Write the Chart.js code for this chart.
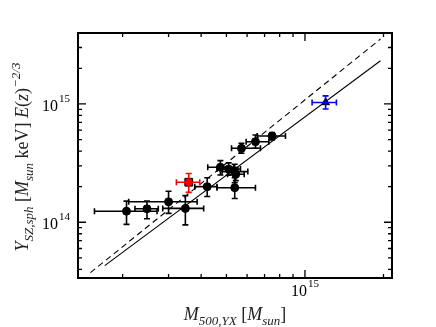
<!DOCTYPE html>
<html>
<head>
<meta charset="utf-8">
<script src="https://cdn.jsdelivr.net/npm/chart.js@4"></script>
<style>
  html, body { margin: 0; padding: 0; background: #fff; }
  #wrap { width: 436px; height: 327px; }
</style>
</head>
<body>
<div id="wrap"><canvas id="c" width="436" height="327"></canvas></div>
<script>
// cluster sample (black circles)
const massX   = [2.07e14, 2.48e14, 3.00e14, 3.48e14, 4.22e14, 5.38e14, 4.74e14, 5.10e14, 5.38e14, 5.43e14, 5.71e14, 6.46e14, 7.48e14];
const massLo  = [1.56e14, 2.23e14, 2.11e14, 2.85e14, 3.78e14, 4.60e14, 4.24e14, 4.60e14, 4.81e14, 5.05e14, 5.23e14, 5.95e14, 6.56e14];
const massHi  = [2.71e14, 2.74e14, 3.86e14, 4.09e14, 4.60e14, 6.46e14, 5.33e14, 5.66e14, 6.04e14, 5.85e14, 6.75e14, 7.27e14, 8.42e14];
const ySZ     = [1.24e14, 1.30e14, 1.49e14, 1.31e14, 2.00e14, 1.96e14, 2.92e14, 2.82e14, 2.68e14, 2.55e14, 4.22e14, 4.80e14, 5.36e14];
const ySZLo   = [0.96e14, 1.07e14, 1.19e14, 0.95e14, 1.65e14, 1.59e14, 2.51e14, 2.50e14, 2.16e14, 2.25e14, 3.83e14, 4.22e14, 4.96e14];
const ySZHi   = [1.51e14, 1.51e14, 1.83e14, 1.68e14, 2.38e14, 2.38e14, 3.32e14, 3.18e14, 3.09e14, 2.90e14, 4.65e14, 5.47e14, 5.72e14];

// red square
const redX = [3.585e14], redXLo = [3.215e14], redXHi = [3.95e14];
const redY = [2.18e14],  redYLo = [1.79e14],  redYHi = [2.58e14];

// blue triangle
const blueX = [1.20e15], blueXLo = [1.065e15], blueXHi = [1.32e15];
const blueY = [1.03e15], blueYLo = [0.907e15], blueYHi = [1.17e15];

// lines
const fitX = [1.708e14, 1.948e15], fitY = [4.30e13, 2.32e15];
const ssX  = [1.505e14, 1.948e15], ssY  = [3.75e13, 3.54e15];

// axis ranges and labelled ticks
const xRange = [1.349e14, 2.156e15];
const yRange = [3.38e13, 3.98e15];
const xTickExps = [15];
const yTickExps = [14, 15];

const pts = (xs, ys) => xs.map((x, i) => ({x: x, y: ys[i]}));

const SERIF = '"Liberation Serif", "DejaVu Serif", serif';

const errorBars = {
  id: 'errorBars',
  afterDatasetsDraw(chart) {
    const ctx = chart.ctx, xs = chart.scales.x, ys = chart.scales.y;
    const cap = 3;
    chart.data.datasets.forEach((ds) => {
      if (!ds.err) return;
      const e = ds.err;
      ctx.save();
      ctx.strokeStyle = ds.errColor;
      ctx.lineWidth = 1.6;
      ds.data.forEach((p, i) => {
        const px = xs.getPixelForValue(p.x), py = ys.getPixelForValue(p.y);
        const xl = xs.getPixelForValue(e.xLo[i]), xh = xs.getPixelForValue(e.xHi[i]);
        const yl = ys.getPixelForValue(e.yLo[i]), yh = ys.getPixelForValue(e.yHi[i]);
        ctx.beginPath();
        ctx.moveTo(xl, py); ctx.lineTo(xh, py);
        ctx.moveTo(xl, py - cap); ctx.lineTo(xl, py + cap);
        ctx.moveTo(xh, py - cap); ctx.lineTo(xh, py + cap);
        ctx.moveTo(px, yl); ctx.lineTo(px, yh);
        ctx.moveTo(px - cap, yl); ctx.lineTo(px + cap, yl);
        ctx.moveTo(px - cap, yh); ctx.lineTo(px + cap, yh);
        ctx.stroke();
      });
      ctx.restore();
    });
  }
};

function drawPow(ctx, base, exp, x, y, align) {
  ctx.font = '16px ' + SERIF;
  const wb = ctx.measureText(base).width;
  ctx.font = '11px ' + SERIF;
  const we = ctx.measureText(exp).width;
  const total = wb + we + 1;
  let x0 = x;
  if (align === 'center') x0 = x - total / 2;
  if (align === 'right') x0 = x - total;
  ctx.textAlign = 'left';
  ctx.textBaseline = 'alphabetic';
  ctx.font = '16px ' + SERIF;
  ctx.fillText(base, x0, y);
  ctx.font = '11px ' + SERIF;
  ctx.fillText(exp, x0 + wb + 1, y - 9);
}

// pieces: [text, style, shift]  style: 'n' normal, 'i' italic; shift: 0, 'sub', 'sup'
function drawRich(ctx, pieces, x, y, size) {
  let w = 0;
  const fontFor = (p) => {
    const s = p[2] ? Math.round(size * 0.7) : size;
    return (p[1] === 'i' ? 'italic ' : '') + s + 'px ' + SERIF;
  };
  pieces.forEach(p => { ctx.font = fontFor(p); w += ctx.measureText(p[0]).width; });
  let cx = x - w / 2;
  ctx.textAlign = 'left';
  ctx.textBaseline = 'alphabetic';
  pieces.forEach(p => {
    ctx.font = fontFor(p);
    let dy = 0;
    if (p[2] === 'sub') dy = size * 0.3;
    if (p[2] === 'sup') dy = -size * 0.45;
    ctx.fillText(p[0], cx, y + dy);
    cx += ctx.measureText(p[0]).width;
  });
}

const frame = {
  id: 'frame',
  afterDraw(chart) {
    const ctx = chart.ctx, a = chart.chartArea, xs = chart.scales.x, ys = chart.scales.y;
    ctx.save();
    ctx.strokeStyle = '#000';
    ctx.fillStyle = '#000';
    // ticks, inward on all sides
    ctx.lineWidth = 1.3;
    ctx.beginPath();
    for (let d = 13; d <= 15; d++) {
      for (let m = 1; m <= 9; m++) {
        const v = m * Math.pow(10, d);
        const len = m === 1 ? 8 : 4;
        if (v > xRange[0] && v < xRange[1]) {
          const px = xs.getPixelForValue(v);
          ctx.moveTo(px, a.bottom); ctx.lineTo(px, a.bottom - len);
          ctx.moveTo(px, a.top); ctx.lineTo(px, a.top + len);
        }
        if (v > yRange[0] && v < yRange[1]) {
          const py = ys.getPixelForValue(v);
          ctx.moveTo(a.left, py); ctx.lineTo(a.left + len, py);
          ctx.moveTo(a.right, py); ctx.lineTo(a.right - len, py);
        }
      }
    }
    ctx.stroke();
    ctx.lineWidth = 2;
    ctx.strokeRect(a.left, a.top, a.right - a.left, a.bottom - a.top);

    // tick labels
    xTickExps.forEach(e => {
      drawPow(ctx, '10', String(e), xs.getPixelForValue(Math.pow(10, e)), a.bottom + 18, 'center');
    });
    yTickExps.forEach(e => {
      drawPow(ctx, '10', String(e), a.left - 8, ys.getPixelForValue(Math.pow(10, e)) + 7, 'right');
    });

    // axis titles
    ctx.fillStyle = '#222';
    drawRich(ctx, [['M', 'i', 0], ['500,YX', 'i', 'sub'], [' [', 'n', 0], ['M', 'i', 0], ['sun', 'i', 'sub'], [']', 'n', 0]],
      235, 320, 18);
    ctx.translate(28, 157);
    ctx.rotate(-Math.PI / 2);
    drawRich(ctx, [['Y', 'i', 0], ['SZ,sph', 'i', 'sub'], [' [', 'n', 0], ['M', 'i', 0], ['sun', 'i', 'sub'],
      [' keV] ', 'n', 0], ['E', 'i', 0], ['(', 'n', 0], ['z', 'i', 0], [')', 'n', 0], ['\u22122/3', 'i', 'sup']],
      0, 0, 18);
    ctx.restore();
  }
};

new Chart(document.getElementById('c'), {
  type: 'scatter',
  data: {
    datasets: [
      { data: pts(ssX, ssY), showLine: true, pointRadius: 0, borderColor: '#000', borderWidth: 1.1, borderDash: [6, 4] },
      { data: pts(fitX, fitY), showLine: true, pointRadius: 0, borderColor: '#000', borderWidth: 1.1 },
      { data: pts(massX, ySZ), pointRadius: 4, pointStyle: 'circle', backgroundColor: '#000', borderColor: '#000',
        err: {xLo: massLo, xHi: massHi, yLo: ySZLo, yHi: ySZHi}, errColor: '#000' },
      { data: pts(redX, redY), pointRadius: 5.5, pointStyle: 'rect', backgroundColor: '#e00000', borderColor: '#000', borderWidth: 1,
        err: {xLo: redXLo, xHi: redXHi, yLo: redYLo, yHi: redYHi}, errColor: '#ff0000' },
      { data: pts(blueX, blueY), pointRadius: 4.5, pointStyle: 'triangle', backgroundColor: '#000', borderColor: '#000',
        err: {xLo: blueXLo, xHi: blueXHi, yLo: blueYLo, yHi: blueYHi}, errColor: '#0000ff' }
    ]
  },
  options: {
    responsive: false,
    animation: false,
    layout: { padding: { left: 78, right: 44, top: 33, bottom: 49 } },
    plugins: { legend: { display: false }, tooltip: { enabled: false } },
    scales: {
      x: { type: 'logarithmic', min: xRange[0], max: xRange[1],
           grid: { display: false, drawTicks: false }, ticks: { display: false }, border: { display: false } },
      y: { type: 'logarithmic', min: yRange[0], max: yRange[1],
           grid: { display: false, drawTicks: false }, ticks: { display: false }, border: { display: false } }
    }
  },
  plugins: [errorBars, frame]
});
</script>
</body>
</html>
